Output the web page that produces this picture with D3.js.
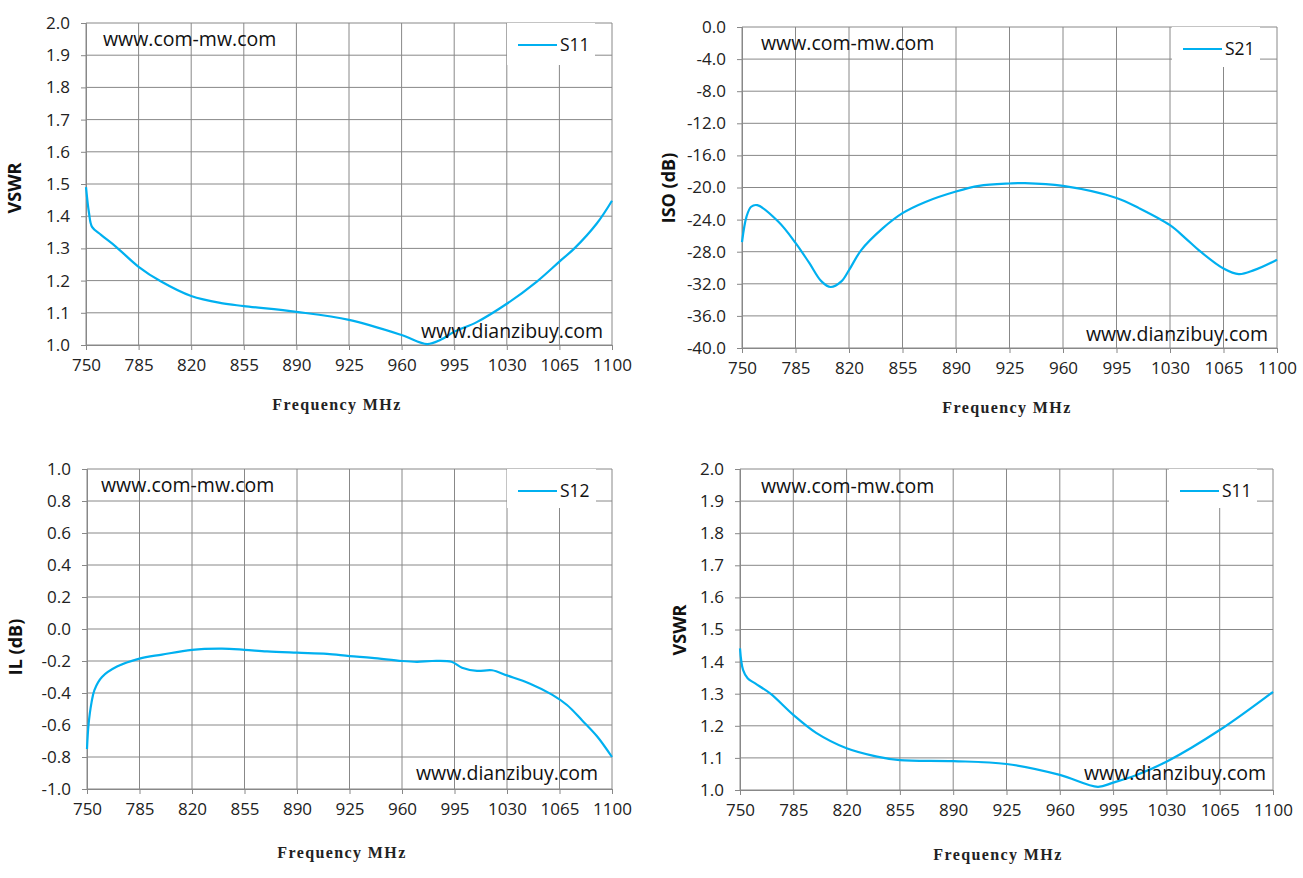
<!DOCTYPE html>
<html>
<head>
<meta charset="utf-8">
<script src="https://cdn.jsdelivr.net/npm/d3@7"></script>
<style>
  html, body { margin: 0; padding: 0; background: #fff; }
  svg { display: block; }
  .tick-label { font-family: "Open Sans", sans-serif; font-size: 17px; fill: #222; }
  .wm { font-family: "Open Sans", sans-serif; font-size: 19.5px; fill: #111; }
  .legend-label { font-family: "Open Sans", sans-serif; font-size: 17.5px; fill: #111; }
  .y-title { font-family: "Open Sans", sans-serif; font-size: 18px; font-weight: bold; fill: #111; }
  .x-title { font-family: "Liberation Serif", "DejaVu Serif", serif; font-size: 16px; font-weight: bold; fill: #222; white-space: pre; letter-spacing: 1.4px; }
</style>
</head>
<body>
<svg id="chart" width="1303" height="878"></svg>
<script>
'use strict';

// ── Data ─────────────────────────────────────────────────────────────────────
const X_TICKS = [750, 785, 820, 855, 890, 925, 960, 995, 1030, 1065, 1100];

// top-left: S11 VSWR
const S11A_FREQ = [750, 752, 754, 760, 770, 785, 800, 820, 840, 855, 890, 925, 960, 977, 986, 995, 1010, 1030, 1050, 1065, 1075, 1090, 1100];
const S11A_VSWR = [1.49, 1.41, 1.367, 1.342, 1.305, 1.243, 1.197, 1.152, 1.13, 1.121, 1.103, 1.078, 1.031, 1.003, 1.016, 1.041, 1.071, 1.128, 1.197, 1.259, 1.30, 1.378, 1.448];

// top-right: S21 isolation
const S21_FREQ = [750, 753, 756, 760, 774, 785, 794, 802, 808, 815, 820, 828, 842, 855, 870, 890, 905, 925, 935, 960, 995, 1010, 1030, 1040, 1050, 1065, 1075, 1085, 1100];
const S21_ISO  = [-26.8, -23.6, -22.4, -22.2, -24.3, -26.9, -29.4, -31.7, -32.4, -31.7, -30.3, -27.8, -25.1, -23.2, -21.8, -20.5, -19.8, -19.5, -19.45, -19.8, -21.3, -22.6, -24.7, -26.3, -28.0, -30.1, -30.8, -30.3, -29.0];

// bottom-left: S12 insertion loss
const S12_FREQ = [750, 751, 753, 755, 760, 770, 785, 800, 820, 840, 855, 870, 890, 910, 925, 940, 960, 970, 980, 993, 1000, 1010, 1020, 1030, 1045, 1060, 1070, 1080, 1090, 1100];
const S12_IL   = [-0.75, -0.6, -0.46, -0.38, -0.3, -0.235, -0.185, -0.16, -0.13, -0.123, -0.13, -0.14, -0.148, -0.155, -0.169, -0.18, -0.2, -0.205, -0.2, -0.205, -0.242, -0.262, -0.258, -0.29, -0.34, -0.41, -0.475, -0.57, -0.67, -0.8];

// bottom-right: S11 VSWR
const S11B_FREQ = [750, 752, 755, 760, 770, 785, 800, 820, 840, 855, 890, 925, 960, 985, 995, 1010, 1030, 1065, 1100];
const S11B_VSWR = [1.441, 1.374, 1.348, 1.332, 1.30, 1.234, 1.178, 1.13, 1.104, 1.093, 1.09, 1.081, 1.047, 1.01, 1.023, 1.046, 1.088, 1.187, 1.306];

const Y_TICKS_VSWR = d3.range(0, 11).map(i => 1 + i / 10);
const Y_TICKS_ISO  = d3.range(0, 11).map(i => -40 + i * 4);
const Y_TICKS_IL   = d3.range(0, 11).map(i => -1 + i / 5);

// ── Layout ───────────────────────────────────────────────────────────────────
const LINE_COLOR = '#00b0f0';
const GRID_COLOR = '#888888';

const panels = [
  { x0: 86,  x1: 612,  y0: 23,  y1: 345, freq: S11A_FREQ, vals: S11A_VSWR, yTicks: Y_TICKS_VSWR,
    name: 'S11', yTitle: 'VSWR', yTitlePos: [21, 188], xTitlePos: [337, 410],
    leg: [507, 23, 88, 42], wm1: [103, 46], wm2: [421, 338] },
  { x0: 742, x1: 1277, y0: 27,  y1: 348, freq: S21_FREQ, vals: S21_ISO, yTicks: Y_TICKS_ISO,
    name: 'S21', yTitle: 'ISO (dB)', yTitlePos: [675, 188], xTitlePos: [1007, 413],
    leg: [1172, 27, 88, 40], wm1: [761, 50], wm2: [1086, 341] },
  { x0: 87,  x1: 612,  y0: 469, y1: 789, freq: S12_FREQ, vals: S12_IL, yTicks: Y_TICKS_IL,
    name: 'S12', yTitle: 'IL (dB)', yTitlePos: [22, 647], xTitlePos: [342, 858],
    leg: [507, 469, 89, 39], wm1: [101, 492], wm2: [416, 780] },
  { x0: 740, x1: 1273, y0: 469, y1: 790, freq: S11B_FREQ, vals: S11B_VSWR, yTicks: Y_TICKS_VSWR,
    name: 'S11', yTitle: 'VSWR', yTitlePos: [686, 630], xTitlePos: [998, 860],
    leg: [1169, 469, 88, 39], wm1: [761, 493], wm2: [1084, 780] },
];

const svg = d3.select('#chart');

panels.forEach(p => {
  const x = d3.scaleLinear().domain([750, 1100]).range([p.x0, p.x1]);
  const y = d3.scaleLinear().domain(d3.extent(p.yTicks)).range([p.y1, p.y0]);
  const g = svg.append('g');

  // grid
  g.append('g').selectAll('line').data(X_TICKS).enter().append('line')
    .attr('x1', d => x(d)).attr('x2', d => x(d))
    .attr('y1', p.y0).attr('y2', p.y1)
    .attr('stroke', GRID_COLOR).attr('stroke-width', 1);
  g.append('g').selectAll('line').data(p.yTicks).enter().append('line')
    .attr('x1', p.x0).attr('x2', p.x1)
    .attr('y1', d => y(d)).attr('y2', d => y(d))
    .attr('stroke', GRID_COLOR).attr('stroke-width', 1);

  // axes
  const xAxis = d3.axisBottom(x).tickValues(X_TICKS).tickSize(5).tickPadding(9).tickFormat(d => d);
  const yAxis = d3.axisLeft(y).tickValues(p.yTicks).tickSize(5).tickPadding(11).tickFormat(d => d.toFixed(1));

  const ax = g.append('g').attr('transform', `translate(0,${p.y1})`).call(xAxis);
  const ay = g.append('g').attr('transform', `translate(${p.x0},0)`).call(yAxis);
  [ax, ay].forEach(a => {
    a.select('.domain').attr('stroke', GRID_COLOR);
    a.selectAll('.tick line').attr('stroke', GRID_COLOR);
    a.selectAll('.tick text').attr('class', 'tick-label').attr('fill', null);
  });

  // legend box (covers grid)
  g.append('rect')
    .attr('x', p.leg[0]).attr('y', p.leg[1])
    .attr('width', p.leg[2]).attr('height', p.leg[3])
    .attr('fill', '#fff');
  const ly = p.leg[1] + 22;
  g.append('line')
    .attr('x1', p.leg[0] + 11).attr('x2', p.leg[0] + 50)
    .attr('y1', ly).attr('y2', ly)
    .attr('stroke', LINE_COLOR).attr('stroke-width', 2.2);
  g.append('text').attr('class', 'legend-label')
    .attr('x', p.leg[0] + 53).attr('y', ly + 6).text(p.name);

  // series
  const line = d3.line()
    .x((d, i) => x(p.freq[i]))
    .y(d => y(d))
    .curve(d3.curveCatmullRom.alpha(0.5));
  g.append('path')
    .datum(p.vals)
    .attr('d', line)
    .attr('fill', 'none')
    .attr('stroke', LINE_COLOR)
    .attr('stroke-width', 2.2);

  // watermarks
  g.append('text').attr('class', 'wm').attr('x', p.wm1[0]).attr('y', p.wm1[1]).text('www.com-mw.com');
  g.append('text').attr('class', 'wm').attr('x', p.wm2[0]).attr('y', p.wm2[1]).text('www.dianzibuy.com');

  // titles
  g.append('text').attr('class', 'x-title')
    .attr('x', p.xTitlePos[0]).attr('y', p.xTitlePos[1])
    .attr('text-anchor', 'middle')
    .text('Frequency MHz');
  g.append('text').attr('class', 'y-title')
    .attr('transform', `translate(${p.yTitlePos[0]},${p.yTitlePos[1]}) rotate(-90)`)
    .attr('text-anchor', 'middle')
    .text(p.yTitle);
});
</script>
</body>
</html>
